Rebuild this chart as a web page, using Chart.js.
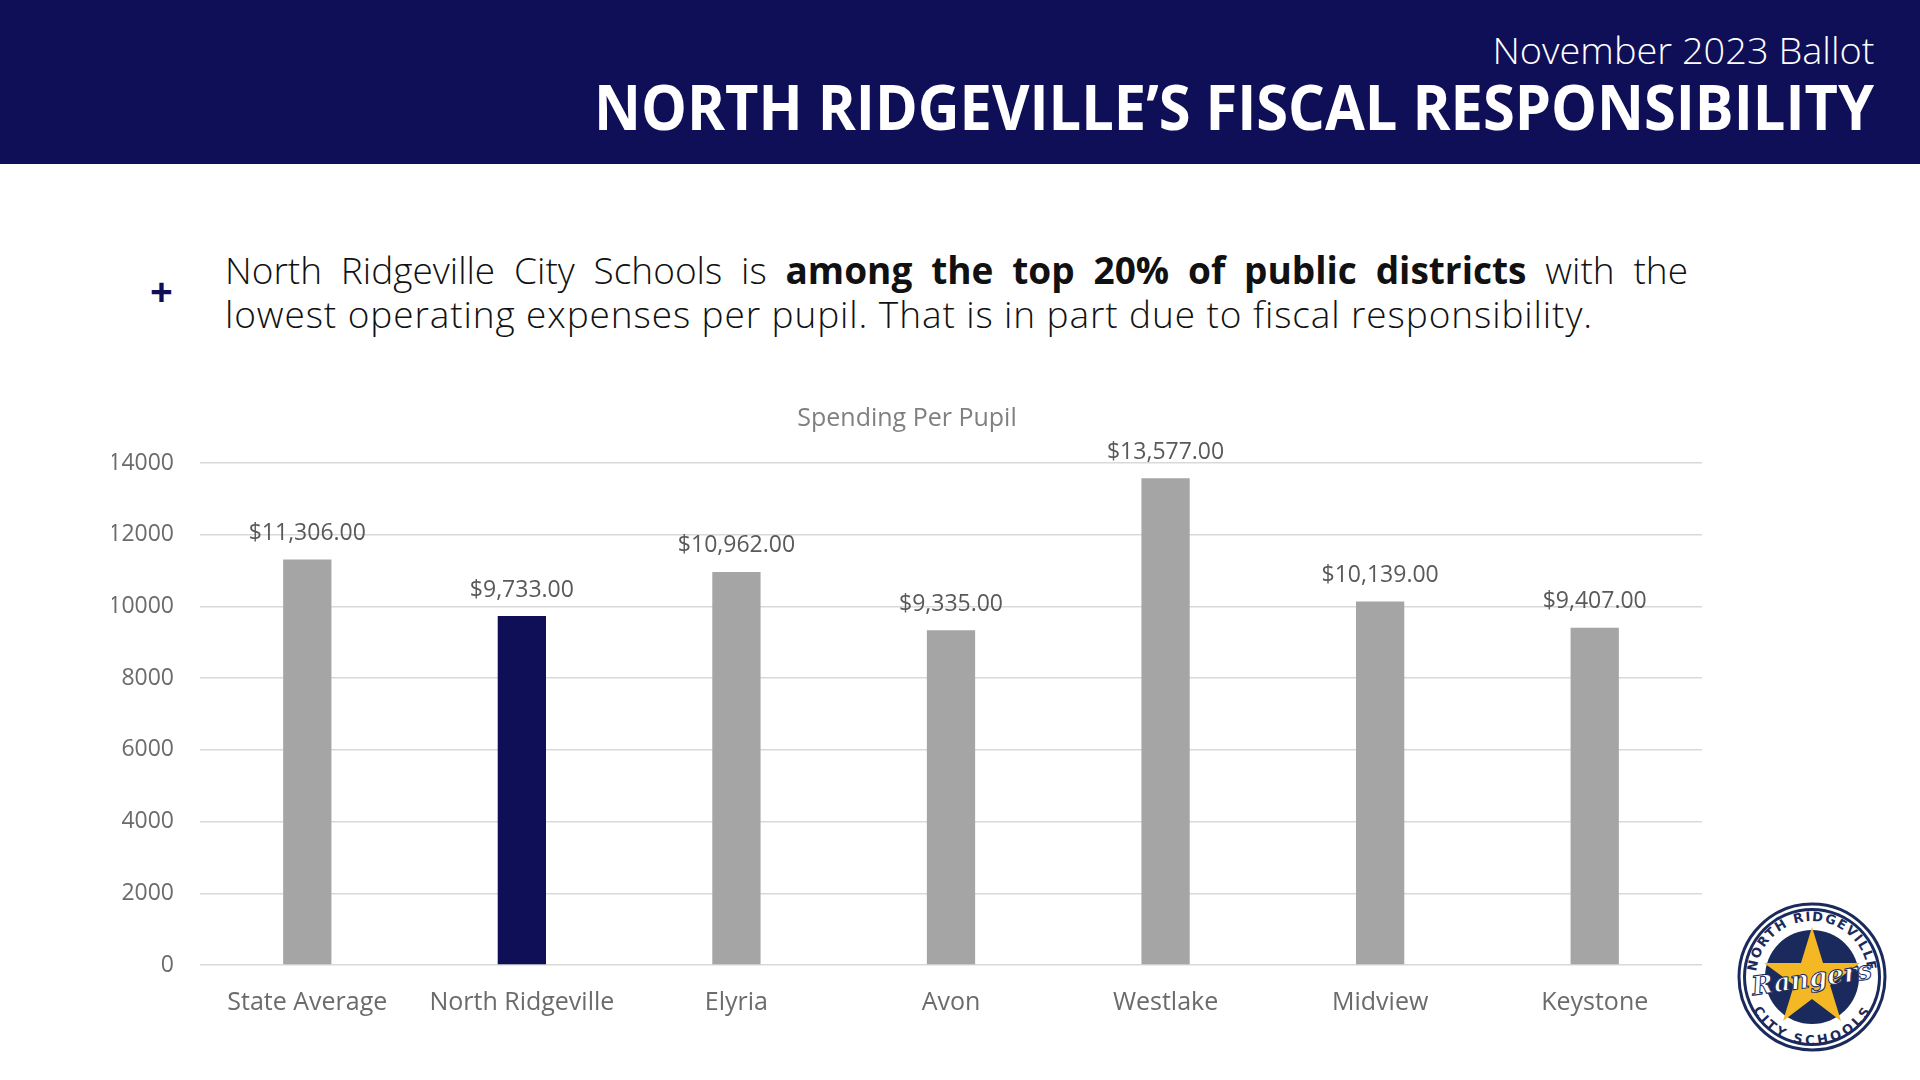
<!DOCTYPE html>
<html>
<head>
<meta charset="utf-8">
<script src="https://cdn.jsdelivr.net/npm/chart.js@4.4.0/dist/chart.umd.min.js"></script>
<style>
  html, body { margin: 0; padding: 0; background: #fff; }
  body { width: 1920px; height: 1080px; position: relative; overflow: hidden; font-family: "Open Sans", sans-serif; }
  .band { position: absolute; left: 0; top: 0; width: 1920px; height: 164px; background: #0f0f57; }
  .fit { position: absolute; right: 46px; white-space: nowrap; color: #fff; transform-origin: right center; }
  #sub { top: 24px; font-size: 37px; font-weight: 300; }
  #title { top: 64px; font-size: 62px; font-weight: 700; }
  .plus { position: absolute; left: 150px; top: 263px; font-size: 40px; font-weight: 700; color: #0f0f57; }
  .para { position: absolute; left: 225px; top: 248px; width: 1463px; font-size: 37px; line-height: 44px; color: #111; font-weight: 300; }
  .para .l1 { text-align: justify; text-align-last: justify; }
  .para .l2 { letter-spacing: 0.9px; white-space: nowrap; }
  .para b { font-weight: 700; }
  #wrap { position: absolute; left: 0; top: 398px; width: 1720px; height: 635px; }
  #logo { position: absolute; left: 1736px; top: 901px; }
</style>
</head>
<body>
<div class="band"></div>
<div id="sub" class="fit">November 2023 Ballot</div>
<div id="title" class="fit">NORTH RIDGEVILLE’S FISCAL RESPONSIBILITY</div>
<div class="plus">+</div>
<div class="para">
  <div class="l1">North Ridgeville City Schools is <b>among the top 20% of public districts</b> with the</div>
  <div class="l2">lowest operating expenses per pupil. That is in part due to fiscal responsibility.</div>
</div>
<div id="wrap"><canvas id="chart"></canvas></div>

<svg id="logo" width="152" height="152" viewBox="0 0 152 152">
  <defs>
    <path id="topArc" d="M 20 76 A 56 56 0 0 1 132 76" />
    <path id="botArc" d="M 18 76 A 58 58 0 0 0 134 76" />
  </defs>
  <circle cx="76" cy="76" r="73" fill="#fff" stroke="#1b2a5c" stroke-width="3"/>
  <circle cx="76" cy="76" r="69" fill="#1b2a5c"/>
  <circle cx="76" cy="76" r="66" fill="#fff"/>
  <circle cx="76" cy="76" r="47" fill="#1b2a5c"/>
  <text font-family="DejaVu Sans" font-weight="bold" font-size="13" fill="#1b2a5c" letter-spacing="1.5">
    <textPath href="#topArc" startOffset="50%" text-anchor="middle">NORTH RIDGEVILLE</textPath>
  </text>
  <text font-family="DejaVu Sans" font-weight="bold" font-size="13" fill="#1b2a5c" letter-spacing="1.5">
    <textPath href="#botArc" startOffset="50%" text-anchor="middle" dominant-baseline="hanging">CITY SCHOOLS</textPath>
  </text>
  <polygon fill="#f3b824" points="76,26 87,62 124,62 94,84 105,120 76,98 47,120 58,84 28,62 65,62"/>
  <text x="76" y="86" text-anchor="middle" font-family="DejaVu Serif" font-style="italic" font-weight="bold" font-size="26" fill="#fff" stroke="#1b2a5c" stroke-width="1" transform="rotate(-8 76 80)">Rangers</text>
</svg>

<script>
// fit the header lines to the widths in the slide
function fitText(id, w) {
  var el = document.getElementById(id);
  var s = w / el.getBoundingClientRect().width;
  el.style.transform = 'scaleX(' + s + ')';
}
fitText('sub', 382);
fitText('title', 1280);

var districts = ['State Average', 'North Ridgeville', 'Elyria', 'Avon', 'Westlake', 'Midview', 'Keystone'];
var spending = [11306, 9733, 10962, 9335, 13577, 10139, 9407];
var yTicks = [0, 2000, 4000, 6000, 8000, 10000, 12000, 14000];

var barColors = districts.map(function(d) {
  return d === 'North Ridgeville' ? '#0f0f57' : '#a5a5a5';
});

var money = function(v) {
  return '$' + v.toLocaleString('en-US', { minimumFractionDigits: 2, maximumFractionDigits: 2 });
};

var valueLabels = {
  id: 'valueLabels',
  afterDatasetsDraw: function(chart) {
    var ctx = chart.ctx;
    var meta = chart.getDatasetMeta(0);
    ctx.save();
    ctx.font = '23px "Open Sans"';
    ctx.fillStyle = '#595959';
    ctx.textAlign = 'center';
    ctx.textBaseline = 'middle';
    meta.data.forEach(function(bar, i) {
      ctx.fillText(money(spending[i]), bar.x, bar.y - 26);
    });
    ctx.restore();
  }
};

Chart.defaults.font.family = '"Open Sans", sans-serif';
Chart.defaults.color = '#595959';

new Chart(document.getElementById('chart'), {
  type: 'bar',
  data: {
    labels: districts,
    datasets: [{
      data: spending,
      backgroundColor: barColors,
      barPercentage: 0.225,
      categoryPercentage: 1
    }]
  },
  options: {
    responsive: true,
    maintainAspectRatio: false,
    animation: false,
    layout: { padding: { left: 112, right: 18, top: 0, bottom: 0 } },
    plugins: {
      legend: { display: false },
      tooltip: { enabled: false },
      title: {
        display: true,
        text: 'Spending Per Pupil',
        color: '#808080',
        font: { size: 25, weight: 'normal' },
        padding: { top: 6, bottom: 29 }
      }
    },
    scales: {
      x: {
        grid: { display: false },
        border: { display: false },
        ticks: { font: { size: 25 }, color: '#6b6b6b', padding: 15 }
      },
      y: {
        min: 0,
        max: 14000,
        afterFit: function(axis) { axis.width = 88; },
        afterBuildTicks: function(axis) {
          axis.ticks = yTicks.map(function(v) { return { value: v }; });
        },
        grid: { color: '#d9d9d9', lineWidth: 1.5, drawTicks: false },
        border: { display: false },
        ticks: {
          font: { size: 23 },
          color: '#6b6b6b',
          padding: 26,
          callback: function(v) { return String(v); }
        }
      }
    }
  },
  plugins: [valueLabels]
});
</script>
</body>
</html>
